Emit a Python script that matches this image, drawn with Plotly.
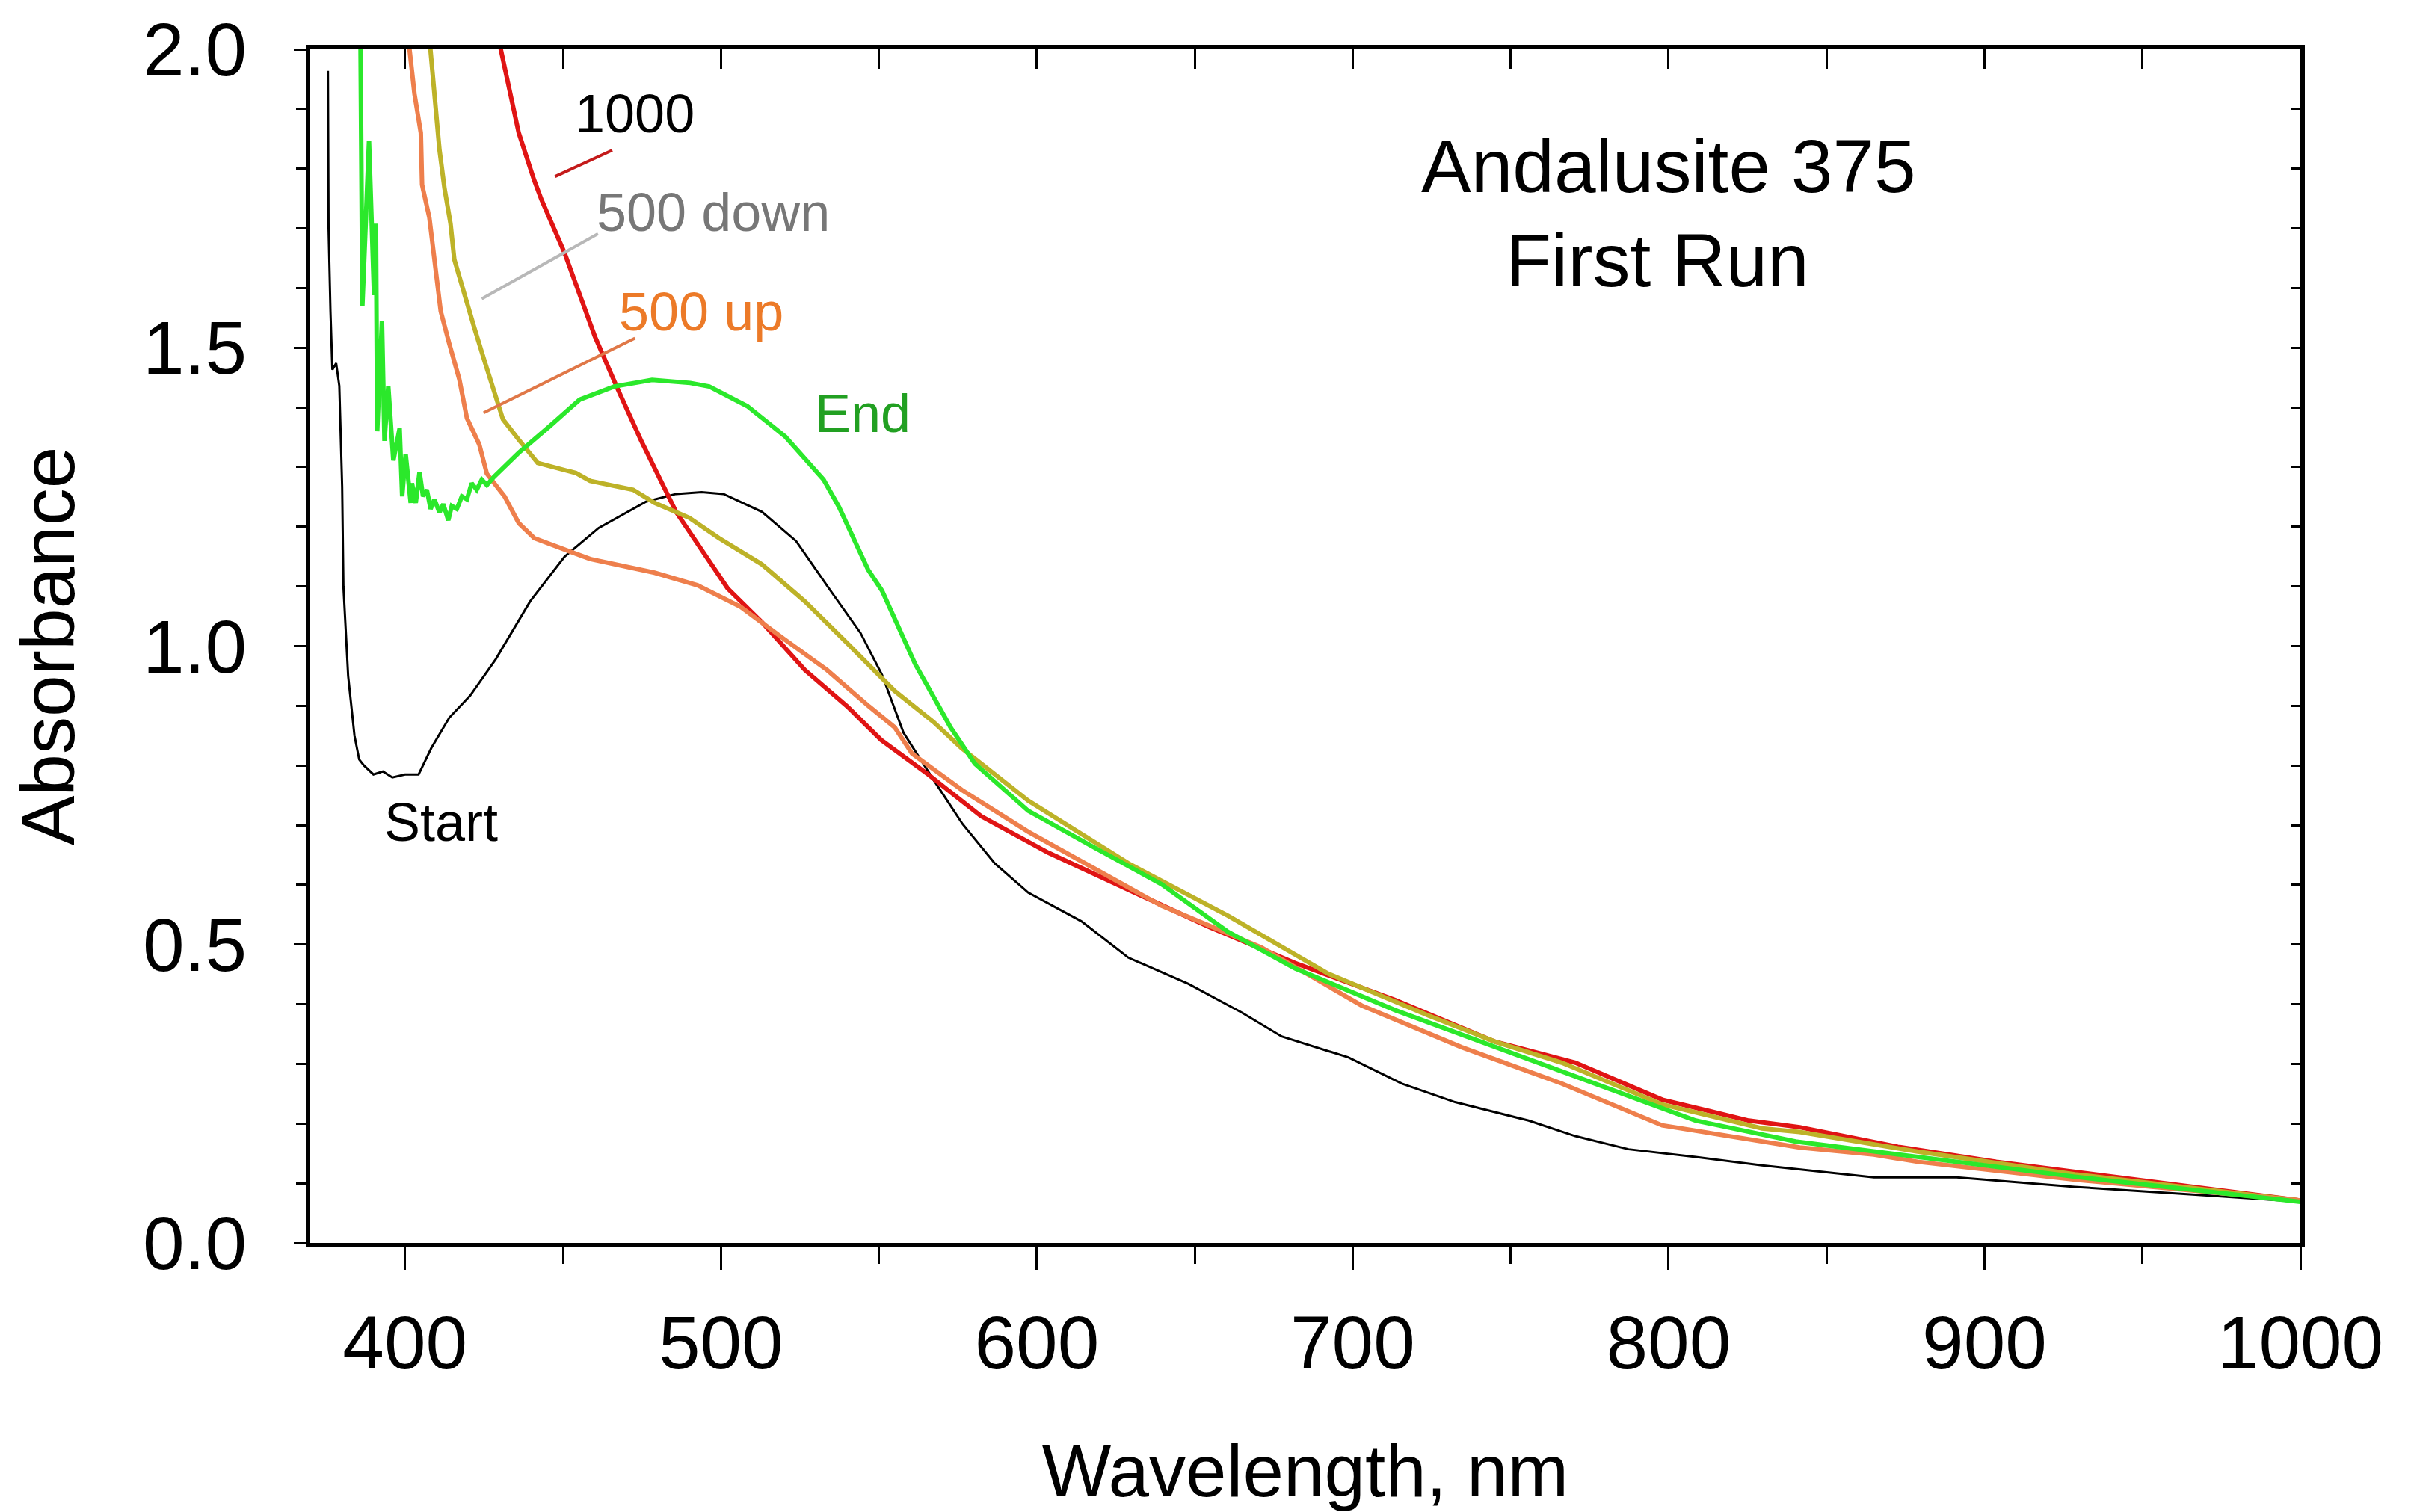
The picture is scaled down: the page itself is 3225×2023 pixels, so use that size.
import plotly.graph_objects as go

# Absorbance spectra (wavelength in nm)
wl_start = [375.6, 375.8, 376.4, 377.0, 378.2, 379.2, 380.1, 380.5, 382.0, 384.0, 385.5,
            387.0, 390.0, 393.0, 396.0, 400.0, 404.3, 408.3, 414.0, 420.6, 428.7, 439.6,
            450.5, 461.3, 476.3, 485.8, 493.9, 500.8, 513.0, 523.8, 534.7, 544.2, 551.0,
            557.8, 567.3, 576.5, 586.7, 597.3, 614.1, 629.0, 648.0, 664.9, 677.5, 698.6,
            715.6, 732.4, 755.7, 770.5, 787.3, 808.6, 829.6, 841.5, 865.0, 891.2, 928.5,
            965.9, 1000.0]
abs_start = [1.964, 1.70, 1.561, 1.463, 1.474, 1.436, 1.267, 1.10, 0.95, 0.85, 0.81,
             0.80, 0.785, 0.79, 0.78, 0.785, 0.785, 0.829, 0.88, 0.917, 0.978, 1.075,
             1.150, 1.198, 1.242, 1.255, 1.258, 1.255, 1.225, 1.176, 1.093, 1.022, 0.952,
             0.855, 0.776, 0.702, 0.636, 0.587, 0.539, 0.478, 0.434, 0.386, 0.346, 0.311,
             0.267, 0.236, 0.205, 0.179, 0.157, 0.144, 0.130, 0.123, 0.110, 0.110, 0.094,
             0.081, 0.069]

wl_1000 = [429.5, 432.4, 436.0, 440.8, 443.2, 450.5, 460.1, 467.4, 474.6, 485.8, 493.9,
           502.1, 513.0, 526.6, 540.0, 550.7, 565.6, 582.4, 603.6, 629.0, 654.3, 681.8,
           713.5, 745.2, 770.5, 798.0, 825.4, 841.5, 872.6, 903.7, 953.5, 1000.0]
abs_1000 = [2.02, 1.950, 1.860, 1.782, 1.748, 1.659, 1.519, 1.430, 1.346, 1.225, 1.163,
            1.097, 1.040, 0.960, 0.899, 0.843, 0.785, 0.715, 0.654, 0.592, 0.530, 0.469,
            0.407, 0.337, 0.302, 0.240, 0.205, 0.194, 0.161, 0.136, 0.103, 0.071]

wl_500_down = [407.7, 409.7, 410.9, 412.5, 414.4, 415.6, 418.8, 421.9, 425.1, 428.2, 431.0,
               436.0, 440.9, 442.0, 454.1, 458.6, 472.2, 479.0, 490.0, 499.4, 513.0, 526.6,
               540.0, 555.0, 567.3, 576.2, 597.3, 629.0, 660.6, 692.3, 724.0, 745.2, 766.2,
               798.0, 829.6, 841.5, 878.8, 928.6, 1000.0]
abs_500_down = [2.02, 1.914, 1.832, 1.767, 1.708, 1.648, 1.588, 1.534, 1.479, 1.425, 1.38,
                1.346, 1.312, 1.307, 1.290, 1.277, 1.262, 1.240, 1.215, 1.181, 1.137, 1.075,
                1.005, 0.925, 0.873, 0.829, 0.741, 0.636, 0.548, 0.451, 0.381, 0.337, 0.302,
                0.232, 0.192, 0.186, 0.153, 0.115, 0.071]

wl_500_up = [401.0, 403.0, 405.0, 405.4, 407.7, 409.3, 411.3, 414.0, 417.2, 419.6, 423.5,
             425.9, 429.8, 431.5, 436.0, 440.9, 458.6, 479.0, 492.6, 506.2, 519.7, 533.6,
             546.9, 555.0, 560.5, 576.3, 597.3, 618.4, 639.5, 671.1, 702.8, 734.5, 766.2,
             798.0, 829.6, 841.5, 865.0, 878.8, 928.6, 1000.0]
abs_500_up = [2.02, 1.925, 1.860, 1.773, 1.718, 1.653, 1.561, 1.507, 1.447, 1.382, 1.338,
              1.289, 1.262, 1.251, 1.206, 1.181, 1.146, 1.123, 1.102, 1.066, 1.013, 0.960,
              0.899, 0.864, 0.820, 0.759, 0.689, 0.627, 0.565, 0.495, 0.398, 0.328, 0.267,
              0.197, 0.170, 0.160, 0.148, 0.136, 0.106, 0.071]

wl_end = [385.9, 386.2, 386.5, 388.6, 389.5, 390.2, 390.8, 391.2, 392.7, 393.5, 394.7,
          396.3, 398.3, 399.1, 400.2, 401.8, 402.2, 403.4, 404.6, 405.7, 406.9, 408.1,
          409.3, 410.9, 412.1, 413.7, 414.8, 416.4, 418.0, 419.6, 421.1, 422.7, 424.3,
          425.9, 428.2, 436.0, 445.7, 455.3, 466.2, 478.2, 490.3, 496.3, 508.4,
          520.4, 532.5, 537.4, 546.6, 551.0, 561.5, 572.7, 580.4, 597.3, 618.4, 639.5,
          660.6, 681.8, 713.5, 745.2, 776.9, 808.6, 840.2, 865.1, 878.8, 928.6, 1000.0]
abs_end = [2.02, 1.80, 1.57, 1.846, 1.70, 1.588, 1.708, 1.360, 1.545, 1.344, 1.436,
           1.311, 1.365, 1.251, 1.322, 1.240, 1.273, 1.240, 1.292, 1.251, 1.262, 1.230,
           1.246, 1.224, 1.238, 1.211, 1.235, 1.230, 1.251, 1.246, 1.273, 1.262, 1.279,
           1.270, 1.284, 1.324, 1.368, 1.413, 1.435, 1.446, 1.441, 1.435, 1.402,
           1.351, 1.279, 1.233, 1.128, 1.093, 0.970, 0.864, 0.803, 0.724, 0.662, 0.601,
           0.521, 0.460, 0.390, 0.328, 0.267, 0.205, 0.170, 0.153, 0.144, 0.111, 0.069]

series = [
    ("Start", wl_start, abs_start, "#000000", 3),
    ("1000", wl_1000, abs_1000, "#e01414", 6),
    ("500 down", wl_500_down, abs_500_down, "#bdb228", 6),
    ("500 up", wl_500_up, abs_500_up, "#ee7f4c", 6),
    ("End", wl_end, abs_end, "#2be82b", 6),
]

# curve labels: text, x, y, colour
label_text = ["1000", "500 down", "500 up", "End", "Start"]
label_x = [472.7, 497.5, 493.7, 544.8, 411.4]
label_y = [1.892, 1.727, 1.560, 1.390, 0.705]
label_color = ["#000000", "#777777", "#ec7a28", "#22a022", "#000000"]

# leader lines: x0, y0, x1, y1, colour
leaders = [
    (447.5, 1.787, 465.6, 1.831, "#c41a1a"),
    (424.3, 1.582, 461.1, 1.691, "#b8b8b8"),
    (424.9, 1.391, 472.8, 1.516, "#e07848"),
]

x_range = [370, 1000]
y_range = [0, 2.0]

fig = go.Figure()
for name, xs, ys, color, width in series:
    fig.add_trace(go.Scatter(x=xs, y=ys, mode="lines", name=name,
                             line=dict(color=color, width=width), showlegend=False))

# invisible trace so the mirrored (inside-tick) axes get drawn
fig.add_trace(go.Scatter(x=[x_range[0]], y=[0], mode="lines", xaxis="x2", yaxis="y2",
                         showlegend=False, hoverinfo="skip"))

annotations = []
for t, x, y, c in zip(label_text, label_x, label_y, label_color):
    annotations.append(dict(x=x, y=y, text=t, showarrow=False, xanchor="center",
                            yanchor="middle", font=dict(size=72, color=c)))
annotations.append(dict(x=800.0, y=1.805, text="Andalusite 375", showarrow=False,
                        font=dict(size=100, color="black")))
annotations.append(dict(x=796.5, y=1.647, text="First Run", showarrow=False,
                        font=dict(size=100, color="black")))

shapes = [dict(type="line", x0=a, y0=b, x1=c, y1=d, xref="x", yref="y",
               line=dict(color=col, width=4)) for a, b, c, d, col in leaders]

font_family = "Liberation Sans, Arial, sans-serif"

fig.update_layout(
    template="none",
    width=3225,
    height=2023,
    margin=dict(l=407, r=156, t=58, b=368),
    paper_bgcolor="white",
    plot_bgcolor="white",
    font=dict(family=font_family, color="black"),
    annotations=annotations,
    shapes=shapes,
    xaxis=dict(
        range=x_range, tick0=0, dtick=100, ticks="outside", ticklen=30, tickwidth=3,
        tickcolor="black", showline=True, linecolor="black", linewidth=6, mirror=True,
        showgrid=False, zeroline=False, tickfont=dict(size=100), ticklabelstandoff=12,
        automargin=False, ticklabeloverflow="allow",
        minor=dict(dtick=50, tick0=0, ticks="outside", ticklen=22, tickwidth=3,
                   tickcolor="black", showgrid=False),
        title=dict(text="Wavelength, nm", font=dict(size=98), standoff=84),
    ),
    yaxis=dict(
        range=y_range, tick0=0, dtick=0.5, tickformat=".1f", ticks="outside", ticklen=16,
        tickwidth=3, tickcolor="black", showline=True, linecolor="black", linewidth=6,
        mirror=True, showgrid=False, zeroline=False, tickfont=dict(size=100),
        ticklabelstandoff=43, automargin=False, ticklabeloverflow="allow",
        minor=dict(dtick=0.1, tick0=0, ticks="outside", ticklen=13, tickwidth=3,
                   tickcolor="black", showgrid=False),
        title=dict(text="Absorbance", font=dict(size=100), standoff=72),
    ),
    xaxis2=dict(
        overlaying="x", side="top", range=x_range, tick0=0, dtick=50, ticks="inside",
        ticklen=26, tickwidth=3, tickcolor="black", showticklabels=False,
        showgrid=False, zeroline=False, showline=False, automargin=False,
    ),
    yaxis2=dict(
        overlaying="y", side="right", range=y_range, tick0=0, dtick=0.1, ticks="inside",
        ticklen=13, tickwidth=3, tickcolor="black", showticklabels=False,
        showgrid=False, zeroline=False, showline=False, automargin=False,
    ),
)

fig.write_html("out.html")
